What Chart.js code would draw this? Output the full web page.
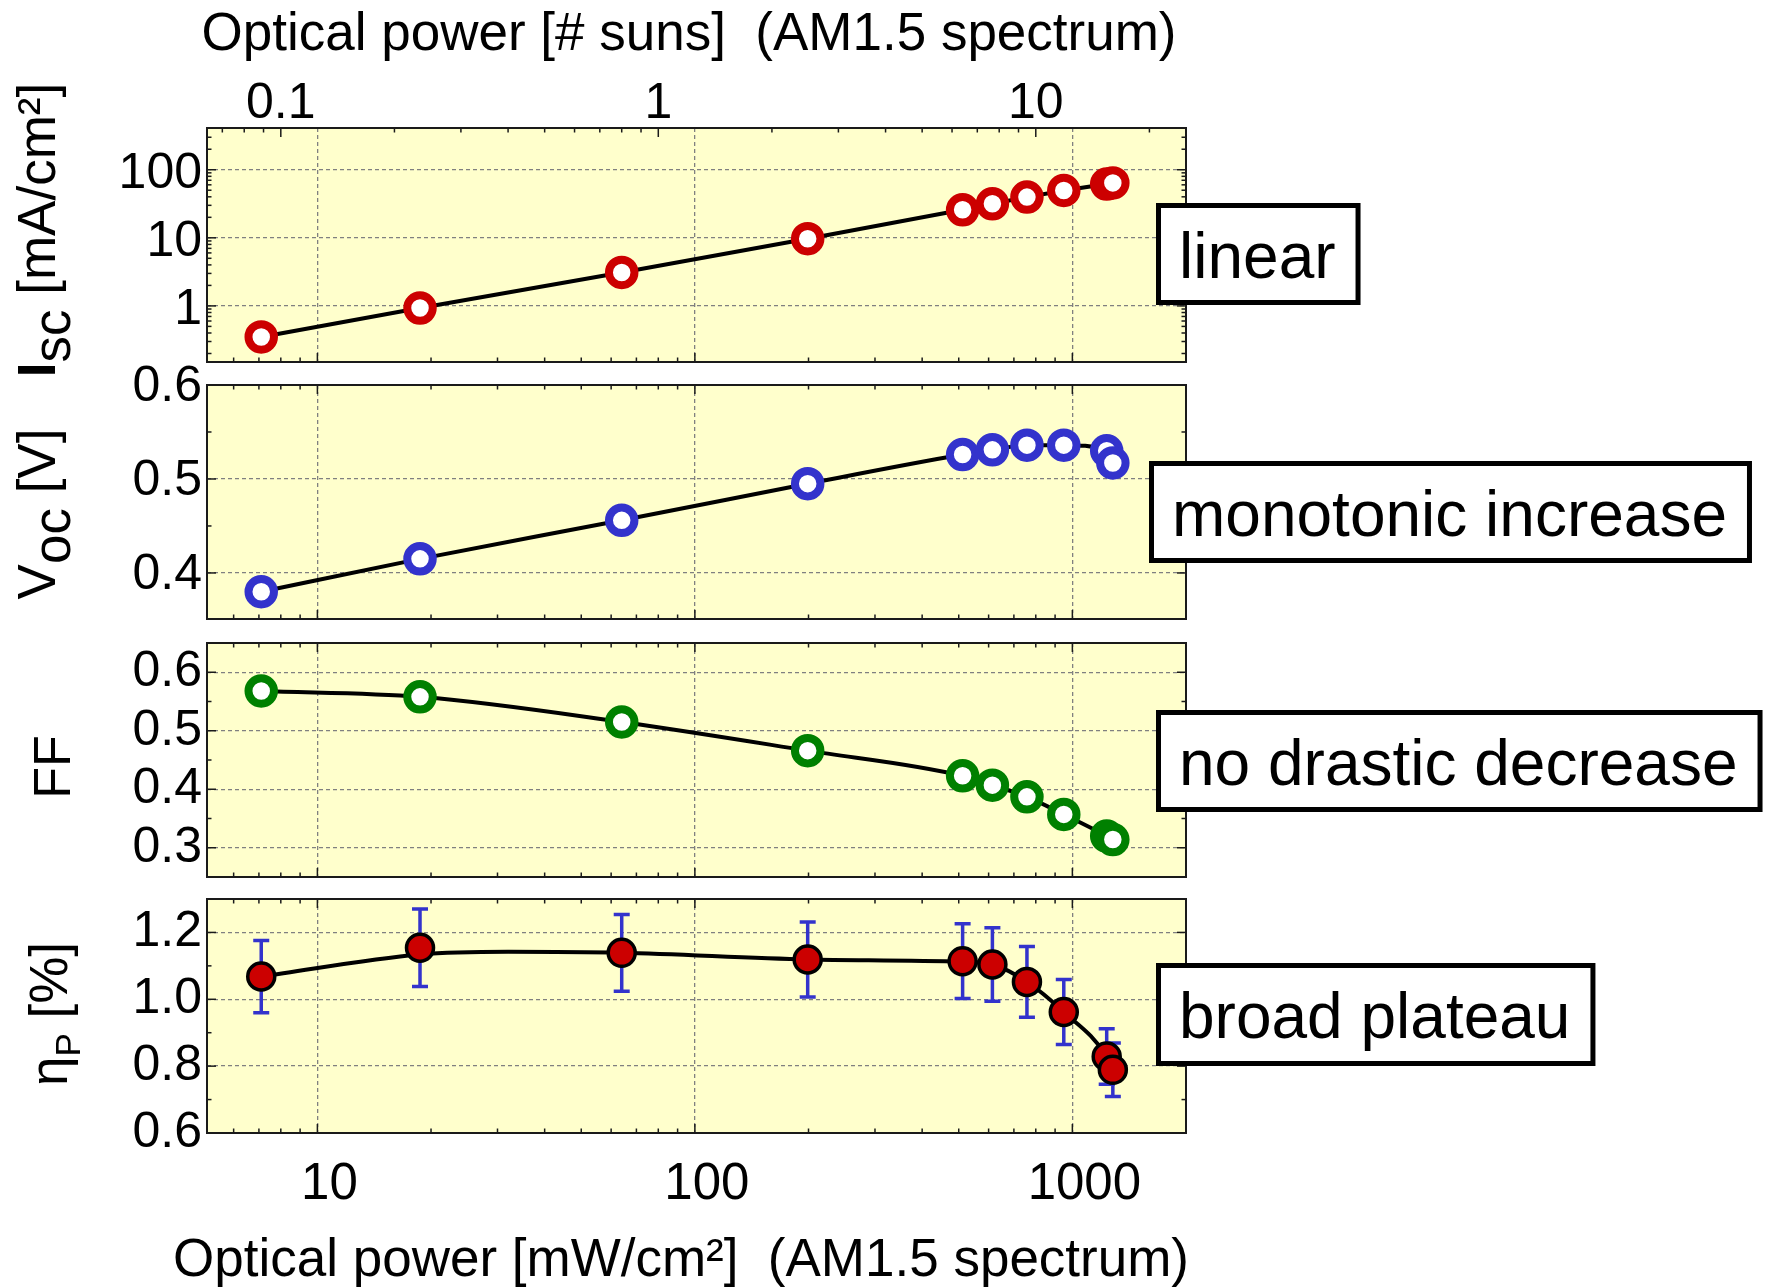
<!DOCTYPE html>
<html>
<head>
<meta charset="utf-8">
<script src="https://cdn.jsdelivr.net/npm/chart.js@4.4.1/dist/chart.umd.min.js"></script>
<style>
  html, body { margin: 0; padding: 0; background: #fff; }
  #wrap { position: relative; width: 1770px; height: 1287px; }
  #wrap canvas { position: absolute; left: 0; top: 0; }
</style>
</head>
<body>
<div id="wrap">
  <canvas id="iscChart" width="1770" height="1287"></canvas>
  <canvas id="vocChart" width="1770" height="1287"></canvas>
  <canvas id="ffChart" width="1770" height="1287"></canvas>
  <canvas id="etaChart" width="1770" height="1287"></canvas>
</div>
<script>
// measured points, optical power in mW/cm2
const power = [7.1, 18.7, 64, 199, 512, 614, 758, 949, 1233, 1280];
const isc = [0.35, 0.93, 3.1, 9.7, 25.8, 31.6, 39.6, 49.5, 61.5, 64];
const voc = [0.380, 0.415, 0.456, 0.495, 0.526, 0.531, 0.536, 0.536, 0.530, 0.517];
const ff = [0.568, 0.558, 0.515, 0.466, 0.423, 0.407, 0.387, 0.357, 0.320, 0.314];
const eta = [1.068, 1.154, 1.139, 1.119, 1.114, 1.104, 1.052, 0.962, 0.829, 0.789];
const etaErr = [0.108, 0.116, 0.115, 0.112, 0.112, 0.110, 0.106, 0.097, 0.083, 0.080];

// guide line drawn through the efficiency points
const etaFitPower = [7.1, 18.7, 32, 64, 199, 512, 614, 758, 949, 1233, 1280];
const etaFit = [1.068, 1.134, 1.142, 1.139, 1.119, 1.112, 1.104, 1.052, 0.962, 0.829, 0.789];

const powerTicks = [10, 100, 1000];
const sunTicks = [0.1, 1, 10];
const iscTicks = [1, 10, 100];
const vocTicks = [0.4, 0.5, 0.6];
const ffTicks = [0.3, 0.4, 0.5, 0.6];
const etaTicks = [0.6, 0.8, 1.0, 1.2];
const mwPerSun = 80;

const FONT = "'Liberation Sans', Arial, Helvetica, sans-serif";
const X_MIN = 5.1, X_MAX = 2000;
const YELLOW = '#ffffcc';
const GRID = '#808080';

Chart.defaults.font.family = FONT;
Chart.defaults.color = '#000';

function fixedTicks(values) {
  return scale => { scale.ticks = values.map(v => ({ value: v })); };
}

function logMinors(decades, lo, hi) {
  const out = [];
  decades.forEach(d => {
    for (let m = 2; m <= 9; m++) {
      const v = d * m;
      if (v > lo && v < hi) out.push(v);
    }
  });
  return out;
}

function points(xs, ys) {
  return xs.map((x, i) => ({ x: x, y: ys[i] }));
}

function drawVerticalLabel(ctx, spec) {
  ctx.save();
  ctx.fillStyle = '#000';
  ctx.textBaseline = 'alphabetic';
  ctx.textAlign = 'left';
  let total = 0;
  spec.parts.forEach(p => {
    ctx.font = (p.bold ? 'bold ' : '') + p.size + 'px ' + FONT;
    p.w = ctx.measureText(p.text).width;
    total += p.w;
  });
  ctx.translate(spec.x, spec.y);
  ctx.rotate(-Math.PI / 2);
  let pos = -total / 2;
  spec.parts.forEach(p => {
    ctx.font = (p.bold ? 'bold ' : '') + p.size + 'px ' + FONT;
    ctx.fillText(p.text, pos, p.dy || 0);
    pos += p.w;
  });
  ctx.restore();
}

function drawBox(ctx, b) {
  ctx.save();
  ctx.font = '64px ' + FONT;
  const w = ctx.measureText(b.text).width + 48;
  ctx.fillStyle = '#fff';
  ctx.fillRect(b.x, b.y, w, b.h);
  ctx.lineWidth = 5;
  ctx.strokeStyle = '#000';
  ctx.strokeRect(b.x + 2.5, b.y + 2.5, w - 5, b.h - 5);
  ctx.fillStyle = '#000';
  ctx.textBaseline = 'alphabetic';
  ctx.fillText(b.text, b.x + 23, b.y + 75);
  ctx.restore();
}

function drawTitle(ctx, t) {
  ctx.save();
  ctx.font = t.size + 'px ' + FONT;
  ctx.fillStyle = '#000';
  ctx.textAlign = 'center';
  ctx.textBaseline = 'alphabetic';
  ctx.fillText(t.text, t.x, t.y);
  ctx.restore();
}

// background, inward tick marks, frame, axis titles and note box
function panelPlugin(cfg) {
  return {
    id: 'panel_' + cfg.name,
    beforeDraw(chart) {
      const a = chart.chartArea, ctx = chart.ctx;
      ctx.save();
      ctx.fillStyle = YELLOW;
      ctx.fillRect(a.left, a.top, a.right - a.left, a.bottom - a.top);
      ctx.restore();
    },
    beforeDatasetsDraw(chart) {
      if (!cfg.errors) return;
      const ctx = chart.ctx, xs = chart.scales.x, ys = chart.scales.y;
      const e = cfg.errors;
      ctx.save();
      ctx.strokeStyle = '#3333cc';
      ctx.lineWidth = 3.5;
      e.x.forEach((p, i) => {
        const px = xs.getPixelForValue(p);
        const lo = ys.getPixelForValue(e.y[i] - e.err[i]);
        const hi = ys.getPixelForValue(e.y[i] + e.err[i]);
        ctx.beginPath();
        ctx.moveTo(px, lo); ctx.lineTo(px, hi);
        ctx.moveTo(px - 8, lo); ctx.lineTo(px + 8, lo);
        ctx.moveTo(px - 8, hi); ctx.lineTo(px + 8, hi);
        ctx.stroke();
      });
      ctx.restore();
    },
    afterDraw(chart) {
      const ctx = chart.ctx, a = chart.chartArea;
      const xs = chart.scales.x, ys = chart.scales.y;
      const top = cfg.topScale ? chart.scales[cfg.topScale] : xs;
      ctx.save();
      ctx.strokeStyle = '#1a1a1a';
      ctx.lineWidth = 1.5;
      const mark = (scale, values, len, edge) => {
        values.forEach(v => {
          const p = scale.getPixelForValue(v);
          const horiz = edge === 'top' || edge === 'bottom';
          if (horiz && (p <= a.left + 1 || p >= a.right - 1)) return;
          if (!horiz && (p <= a.top + 1 || p >= a.bottom - 1)) return;
          ctx.beginPath();
          if (edge === 'bottom') { ctx.moveTo(p, a.bottom); ctx.lineTo(p, a.bottom - len); }
          if (edge === 'top') { ctx.moveTo(p, a.top); ctx.lineTo(p, a.top + len); }
          if (edge === 'left') { ctx.moveTo(a.left, p); ctx.lineTo(a.left + len, p); }
          if (edge === 'right') { ctx.moveTo(a.right, p); ctx.lineTo(a.right - len, p); }
          ctx.stroke();
        });
      };
      mark(xs, powerTicks, 9, 'bottom');
      mark(xs, logMinors([1, 10, 100, 1000], X_MIN, X_MAX), 4.5, 'bottom');
      if (cfg.topScale) {
        mark(top, sunTicks, 9, 'top');
        mark(top, logMinors([0.01, 0.1, 1, 10], X_MIN / mwPerSun, X_MAX / mwPerSun), 4.5, 'top');
      } else {
        mark(xs, powerTicks, 9, 'top');
        mark(xs, logMinors([1, 10, 100, 1000], X_MIN, X_MAX), 4.5, 'top');
      }
      ['left', 'right'].forEach(edge => {
        mark(ys, cfg.yMajor, 9, edge);
        mark(ys, cfg.yMinor, 4.5, edge);
      });
      ctx.lineWidth = 2;
      ctx.strokeRect(a.left, a.top, a.right - a.left, a.bottom - a.top);
      ctx.restore();
      drawVerticalLabel(ctx, cfg.label);
      if (cfg.title) drawTitle(ctx, cfg.title);
      drawBox(ctx, cfg.box);
    }
  };
}

function powerAxis(withLabels) {
  return {
    type: 'logarithmic', min: X_MIN, max: X_MAX, bounds: 'data',
    afterBuildTicks: fixedTicks(powerTicks),
    ticks: {
      display: withLabels, color: '#000', padding: 21, labelOffset: 12,
      maxRotation: 0, autoSkip: false,
      font: { family: FONT, size: 51, lineHeight: 1.2 },
      callback: v => String(v)
    },
    grid: { color: GRID, lineWidth: 1.3, drawTicks: false },
    border: { display: false, dash: [4, 3] },
    afterFit: s => { s.height = withLabels ? 154 : 0; s.paddingLeft = 0; s.paddingRight = 0; }
  };
}

function valueAxis(type, min, max, ticks, fmt, shift) {
  return {
    type: type, min: min, max: max, bounds: 'data',
    afterBuildTicks: fixedTicks(ticks),
    ticks: {
      color: '#000', padding: 5, labelOffset: shift || 0,
      font: { family: FONT, size: 50, lineHeight: 1.2 },
      callback: fmt
    },
    grid: { color: GRID, lineWidth: 1.3, drawTicks: false },
    border: { display: false, dash: [4, 3] },
    afterFit: s => { s.width = 207; s.paddingTop = 0; s.paddingBottom = 0; }
  };
}

function baseOptions(padTop, padBottom, scales) {
  return {
    responsive: false,
    animation: false,
    events: [],
    layout: { autoPadding: false, padding: { left: 0, right: 584, top: padTop, bottom: padBottom } },
    plugins: { legend: { display: false }, tooltip: { enabled: false } },
    scales: scales
  };
}

function openMarkers(color) {
  return {
    showLine: true,
    borderColor: '#000',
    borderWidth: 4,
    pointRadius: 12.75,
    pointBorderWidth: 8,
    pointBorderColor: color,
    pointBackgroundColor: '#fff'
  };
}

const oneDecimal = v => Number(v).toFixed(1);

// Isc panel, with the # suns axis on top
new Chart(document.getElementById('iscChart'), {
  type: 'scatter',
  data: {
    datasets: [Object.assign({ data: points(power, isc), tension: 0 }, openMarkers('#cc0000'))]
  },
  options: baseOptions(0, 925, {
    x: powerAxis(false),
    x2: {
      type: 'logarithmic', position: 'top', bounds: 'data',
      min: X_MIN / mwPerSun, max: X_MAX / mwPerSun,
      afterBuildTicks: fixedTicks(sunTicks),
      ticks: {
        color: '#000', padding: 0, maxRotation: 0, autoSkip: false,
        font: { family: FONT, size: 50, lineHeight: 0.95 },
        callback: v => String(v)
      },
      grid: { display: false, drawTicks: false },
      border: { display: false },
      afterFit: s => { s.height = 128; s.paddingLeft = 0; s.paddingRight = 0; }
    },
    y: valueAxis('logarithmic', 0.15, 410, iscTicks, v => String(v), 4)
  }),
  plugins: [panelPlugin({
    name: 'isc', topScale: 'x2',
    yMajor: iscTicks, yMinor: logMinors([0.1, 1, 10, 100], 0.15, 410),
    title: { text: 'Optical power [# suns]  (AM1.5 spectrum)', x: 689, y: 50, size: 53 },
    label: { x: 55, y: 230, parts: [
      { text: 'I', size: 53, bold: true },
      { text: 'sc', size: 53, dy: 15 },
      { text: ' [mA/cm²]', size: 53 }
    ] },
    box: { x: 1156, y: 203, h: 102, text: 'linear' }
  })]
});

// Voc panel
new Chart(document.getElementById('vocChart'), {
  type: 'scatter',
  data: {
    datasets: [Object.assign({ data: points(power, voc), cubicInterpolationMode: 'monotone' }, openMarkers('#3333cc'))]
  },
  options: baseOptions(385, 668, {
    x: powerAxis(false),
    y: valueAxis('linear', 0.351, 0.6, vocTicks, oneDecimal, 2)
  }),
  plugins: [panelPlugin({
    name: 'voc',
    yMajor: vocTicks, yMinor: [0.45, 0.55],
    label: { x: 55, y: 514, parts: [
      { text: 'V', size: 53 },
      { text: 'oc', size: 53, dy: 15 },
      { text: ' [V]', size: 53 }
    ] },
    box: { x: 1149, y: 461, h: 102, text: 'monotonic increase' }
  })]
});

// fill factor panel
new Chart(document.getElementById('ffChart'), {
  type: 'scatter',
  data: {
    datasets: [Object.assign({ data: points(power, ff), cubicInterpolationMode: 'monotone' }, openMarkers('#008000'))]
  },
  options: baseOptions(643, 410, {
    x: powerAxis(false),
    y: valueAxis('linear', 0.25, 0.65, ffTicks, oneDecimal)
  }),
  plugins: [panelPlugin({
    name: 'ff',
    yMajor: ffTicks, yMinor: [0.35, 0.45, 0.55],
    label: { x: 70, y: 767, parts: [{ text: 'FF', size: 52 }] },
    box: { x: 1156, y: 710, h: 102, text: 'no drastic decrease' }
  })]
});

// power conversion efficiency panel
new Chart(document.getElementById('etaChart'), {
  type: 'scatter',
  data: {
    datasets: [
      {
        data: points(power, eta),
        showLine: false,
        pointRadius: 13.5,
        pointBorderWidth: 3.5,
        pointBackgroundColor: '#cc0000',
        pointBorderColor: '#000',
        order: 0
      },
      {
        data: points(etaFitPower, etaFit),
        showLine: true,
        borderColor: '#000',
        borderWidth: 4,
        pointRadius: 0,
        cubicInterpolationMode: 'monotone',
        order: 1
      }
    ]
  },
  options: baseOptions(899, 0, {
    x: powerAxis(true),
    y: valueAxis('linear', 0.6, 1.3, etaTicks, oneDecimal)
  }),
  plugins: [panelPlugin({
    name: 'eta',
    yMajor: etaTicks, yMinor: [0.7, 0.9, 1.1],
    errors: { x: power, y: eta, err: etaErr },
    title: { text: 'Optical power [mW/cm²]  (AM1.5 spectrum)', x: 681, y: 1276, size: 53 },
    label: { x: 67, y: 1014, parts: [
      { text: 'η', size: 53 },
      { text: 'P', size: 35, dy: 13 },
      { text: ' [%]', size: 53 }
    ] },
    box: { x: 1156, y: 963, h: 103, text: 'broad plateau' }
  })]
});
</script>
</body>
</html>
